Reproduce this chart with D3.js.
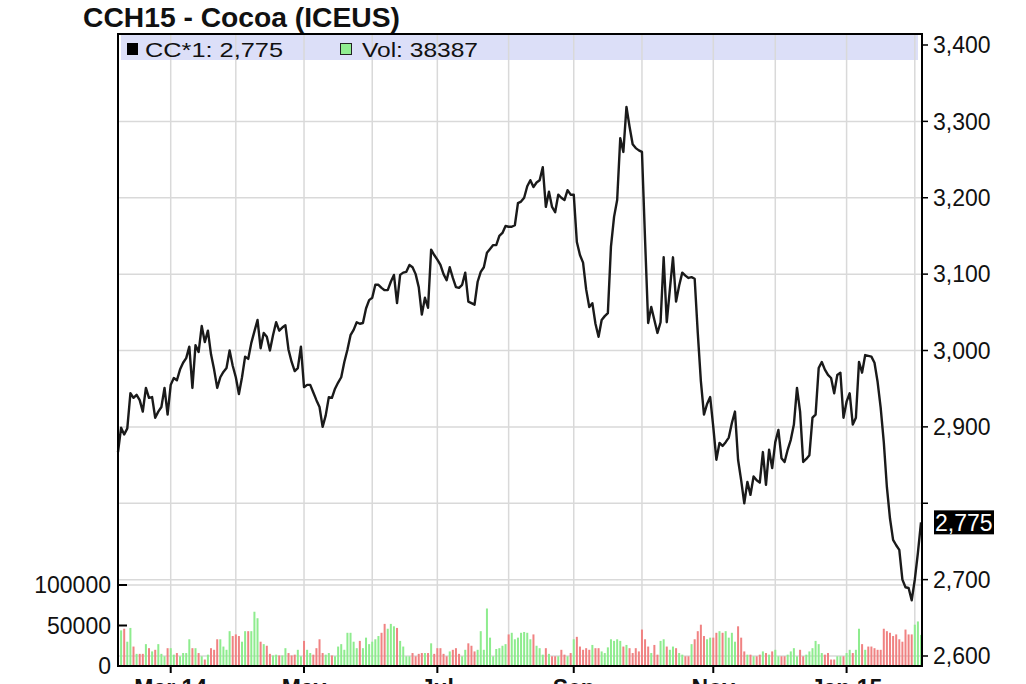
<!DOCTYPE html>
<html><head><meta charset="utf-8">
<script src="https://cdn.jsdelivr.net/npm/d3@7"></script>
<style>
body{margin:0;background:#fff;}
svg{display:block;font-family:"Liberation Sans",Arial,sans-serif;}
</style>
</head><body><svg id="c" width="1026" height="684"></svg>
<script>
// ---------------- data ----------------
const title = "CCH15 - Cocoa (ICEUS)";
const symbol = "CC*1";
const startDate = "2014-02-06";
const priceTicks = [2600, 2700, 2800, 2900, 3000, 3100, 3200, 3300, 3400];
const volumeTicks = [0, 50000, 100000];
const monthLabels = {"2014-03": "Mar 14", "2014-05": "May", "2014-07": "Jul", "2014-09": "Sep", "2014-11": "Nov", "2015-01": "Jan 15"};

const closes = [
2867,2899,2890,2898,2944,2938,2942,2935,2920,2951,
2938,2939,2912,2920,2926,2951,2916,2955,2964,2961,
2975,2984,2990,3005,2951,3007,2998,3032,3011,3026,
2995,2975,2951,2965,2972,2977,3000,2980,2965,2943,
2965,2992,2989,3010,3025,3040,3003,3023,3018,3000,
3020,3037,3026,3030,3033,3001,2985,2973,2977,3005,
2952,2955,2955,2945,2935,2926,2900,2915,2939,2938,
2950,2958,2965,2985,3001,3020,3027,3037,3035,3036,
3055,3066,3069,3086,3086,3082,3079,3079,3090,3099,
3062,3099,3102,3103,3112,3109,3100,3083,3047,3069,
3056,3132,3125,3119,3112,3100,3092,3109,3095,3083,
3082,3086,3102,3064,3062,3060,3090,3103,3109,3128,
3133,3138,3138,3150,3154,3163,3162,3162,3164,3193,
3195,3200,3215,3223,3214,3220,3223,3240,3188,3208,
3188,3181,3204,3200,3197,3210,3204,3204,3142,3125,
3115,3080,3057,3062,3035,3018,3040,3045,3049,3136,
3175,3197,3278,3260,3319,3293,3270,3265,3262,3260,
3145,3036,3057,3040,3023,3037,3122,3037,3080,3122,
3064,3085,3102,3098,3095,3096,3094,3023,2960,2916,
2930,2939,2900,2857,2879,2875,2880,2886,2905,2920,
2857,2830,2800,2828,2811,2835,2830,2827,2867,2824,
2870,2846,2880,2896,2859,2854,2870,2883,2903,2951,
2920,2854,2858,2863,2912,2916,2977,2985,2975,2968,
2964,2944,2968,2971,2912,2933,2944,2903,2912,2985,
2971,2994,2993,2992,2984,2959,2925,2880,2821,2780,
2752,2745,2739,2700,2690,2689,2673,2700,2735,2775
];

const volumes = [
30000,44000,46000,30000,47000,24000,15000,15000,15000,27000,
22000,18000,20000,27000,15000,12000,22000,22000,14000,16000,
12000,16000,16000,33000,22000,22000,16000,12000,8000,14000,
22000,20000,33000,33000,24000,20000,43000,37000,39000,37000,
30000,43000,43000,43000,67000,59000,30000,27000,25000,15000,
13000,14000,13000,13000,22000,16000,13000,14000,20000,12000,
31000,20000,16000,14000,22000,33000,16000,14000,16000,13000,
12000,24000,27000,20000,41000,41000,30000,22000,31000,22000,
35000,27000,30000,33000,37000,41000,52000,46000,52000,49000,
47000,31000,24000,12000,12000,16000,12000,15000,16000,16000,
16000,28000,15000,22000,22000,15000,12000,18000,20000,22000,
15000,12000,20000,28000,25000,18000,20000,43000,20000,71000,
35000,12000,21000,22000,25000,27000,39000,41000,33000,35000,
41000,42000,41000,33000,39000,25000,22000,14000,22000,15000,
12000,12000,12000,20000,14000,12000,16000,33000,36000,24000,
20000,22000,20000,26000,22000,22000,18000,16000,23000,33000,
31000,33000,31000,24000,26000,22000,16000,22000,18000,45000,
33000,24000,16000,26000,14000,31000,33000,24000,20000,24000,
22000,16000,14000,12000,12000,27000,33000,43000,51000,37000,
33000,35000,35000,41000,43000,41000,43000,35000,41000,30000,
49000,35000,18000,14000,14000,12000,12000,14000,18000,16000,
14000,18000,20000,12000,12000,12000,14000,18000,22000,12000,
20000,12000,14000,18000,22000,31000,27000,16000,14000,16000,
8000,8000,12000,12000,12000,16000,20000,16000,20000,46000,
27000,20000,24000,24000,22000,20000,20000,46000,43000,41000,
37000,39000,33000,30000,45000,39000,39000,51000,55000,38387
];

// trading dates (weekdays) starting at startDate, one per close
const parse = d3.utcParse("%Y-%m-%d");
const fmtDay = d3.utcFormat("%Y-%m-%d");
const fmtMonth = d3.utcFormat("%Y-%m");
const dates = [];
for (let d = parse(startDate); dates.length < closes.length; d = d3.utcDay.offset(d, 1)) {
  const wd = d.getUTCDay();
  if (wd !== 0 && wd !== 6) dates.push(fmtDay(d));
}

// ---------------- layout ----------------
const L = 118, R = 921, T = 34, B = 666;
const svg = d3.select("#c");
const x = d3.scalePoint().domain(dates).range([L, R]);
const y = d3.scaleLinear().domain([2600, 3400]).range([656, 45]);
const yv = d3.scaleLinear().domain([0, 100000]).range([B, 585]);
const grid = "#d9d9d9";
const fmtC = d3.format(",");

// legend band
svg.append("rect").attr("x", L + 3).attr("y", T).attr("width", R - L - 6).attr("height", 26)
  .attr("fill", "#dcdff8");

// month boundaries
const monthStarts = dates.filter((d, i) => i > 0 && fmtMonth(parse(d)) !== fmtMonth(parse(dates[i - 1])));

// vertical gridlines
svg.append("g").selectAll("line").data(monthStarts).join("line")
  .attr("x1", d => x(d)).attr("x2", d => x(d)).attr("y1", T).attr("y2", B)
  .attr("stroke", grid).attr("stroke-width", 1.5);

// horizontal gridlines
svg.append("g").selectAll("line").data(priceTicks.filter(t => t < 3400)).join("line")
  .attr("x1", L).attr("x2", R).attr("y1", d => y(d)).attr("y2", d => y(d))
  .attr("stroke", grid).attr("stroke-width", 1.5);
svg.append("line").attr("x1", L).attr("x2", R).attr("y1", yv(100000)).attr("y2", yv(100000))
  .attr("stroke", grid).attr("stroke-width", 1.5);

// volume bars
svg.append("g").selectAll("rect").data(volumes).join("rect")
  .attr("x", (v, i) => x(dates[i]) - 1)
  .attr("width", 2)
  .attr("y", v => yv(v))
  .attr("height", v => B - yv(v))
  .attr("fill", (v, i) => (i === 0 || closes[i] >= closes[i - 1]) ? "#8eec8e" : "#f08282");

// price line
const line = d3.line().x((c, i) => x(dates[i])).y(c => y(c));
svg.append("path").datum(closes).attr("d", line)
  .attr("fill", "none").attr("stroke", "#1a1a1a").attr("stroke-width", 2.4).attr("stroke-linejoin", "round");

// frame
svg.append("rect").attr("x", L).attr("y", T).attr("width", R - L + 1).attr("height", B - T)
  .attr("fill", "none").attr("stroke", "#000").attr("stroke-width", 2);

// right axis
const last = closes[closes.length - 1];
const ra = svg.append("g");
ra.selectAll("line").data(priceTicks).join("line")
  .attr("x1", R + 1).attr("x2", R + 7).attr("y1", d => y(d)).attr("y2", d => y(d))
  .attr("stroke", "#000").attr("stroke-width", 1.5);
ra.selectAll("text").data(priceTicks.filter(t => Math.abs(t - last) > 40)).join("text")
  .attr("x", 933).attr("y", d => y(d)).attr("dy", "0.36em")
  .attr("font-size", 23).attr("fill", "#111").text(d => fmtC(d));
ra.append("rect").attr("x", 934).attr("y", y(last) - 12).attr("width", 60).attr("height", 24).attr("fill", "#000");
ra.append("text").attr("x", 935).attr("y", y(last)).attr("dy", "0.36em")
  .attr("font-size", 23).attr("fill", "#fff").text(fmtC(last));

// left volume axis
const la = svg.append("g");
la.selectAll("line").data(volumeTicks).join("line")
  .attr("x1", L).attr("x2", L + 9).attr("y1", d => yv(d)).attr("y2", d => yv(d))
  .attr("stroke", "#000").attr("stroke-width", 2);
la.selectAll("text").data(volumeTicks).join("text")
  .attr("x", 111).attr("y", d => yv(d)).attr("dy", "0.36em").attr("text-anchor", "end")
  .attr("font-size", 23).attr("fill", "#111").text(d => d);

// bottom axis (labels sit at the lower edge, partly cropped as in the reference)
const labeled = monthStarts.filter(d => monthLabels[fmtMonth(parse(d))]);
const ba = svg.append("g");
ba.selectAll("line").data(labeled).join("line")
  .attr("x1", d => x(d)).attr("x2", d => x(d)).attr("y1", B).attr("y2", B + 7)
  .attr("stroke", "#000").attr("stroke-width", 2);
ba.selectAll("text").data(labeled).join("text")
  .attr("x", d => x(d)).attr("y", 696).attr("text-anchor", "middle")
  .attr("font-size", 23).attr("font-weight", "bold").attr("fill", "#111")
  .text(d => monthLabels[fmtMonth(parse(d))]);

// title
svg.append("text").attr("x", 83).attr("y", 27).attr("font-size", 27).attr("font-weight", "bold")
  .attr("fill", "#111").attr("textLength", 317).attr("lengthAdjust", "spacingAndGlyphs").text(title);

// legend
svg.append("rect").attr("x", 127).attr("y", 43).attr("width", 11).attr("height", 12).attr("fill", "#000");
svg.append("text").attr("x", 145).attr("y", 57).attr("font-size", 21).attr("fill", "#111")
  .attr("textLength", 138).attr("lengthAdjust", "spacingAndGlyphs")
  .text(symbol + ": " + fmtC(last));
svg.append("rect").attr("x", 340.5).attr("y", 43.5).attr("width", 11).attr("height", 11)
  .attr("fill", "#90ee90").attr("stroke", "#222").attr("stroke-width", 1);
svg.append("text").attr("x", 362).attr("y", 57).attr("font-size", 21).attr("fill", "#111")
  .attr("textLength", 116).attr("lengthAdjust", "spacingAndGlyphs")
  .text("Vol: " + volumes[volumes.length - 1]);
</script>
</body></html>
